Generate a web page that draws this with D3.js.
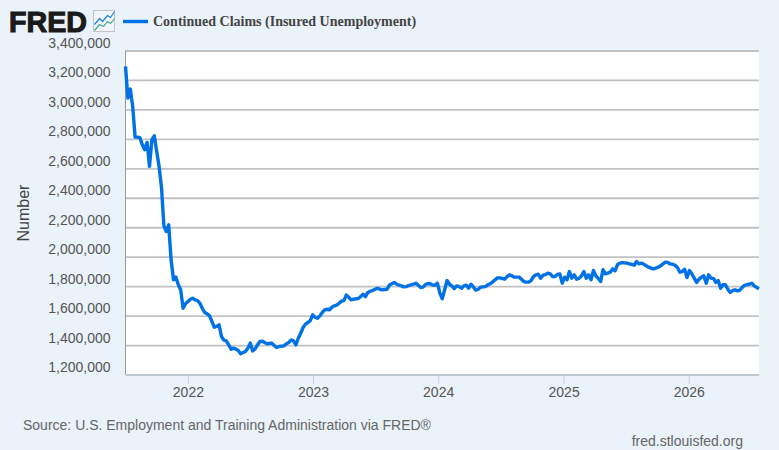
<!DOCTYPE html>
<html>
<head>
<meta charset="utf-8">
<script src="https://cdn.jsdelivr.net/npm/d3@7"></script>
<style>
  html, body { margin: 0; padding: 0; background: #eaf2fa; }
  svg { display: block; }
  text { font-family: "Liberation Sans", Arial, sans-serif; }
</style>
</head>
<body>
<div id="chart"></div>
<script>
/* Data */
const firstWeek = '2021-07-03';
const seriesName = 'Continued Claims (Insured Unemployment)';
const yTicks = [1200000, 1400000, 1600000, 1800000, 2000000, 2200000, 2400000, 2600000, 2800000, 3000000, 3200000, 3400000];
const yearTicks = ['2022-01-01', '2023-01-01', '2024-01-01', '2025-01-01', '2026-01-01'];

// weekly, in thousands
const claimsK = [
  3292, 3077, 3138, 3020, 2812, 2812, 2808, 2760, 2726, 2776, 2613, 2794, 2821, 2715, 2613,
  2470, 2210, 2171, 2216, 1979, 1843, 1861, 1809, 1775,
  1650, 1680, 1695, 1711, 1718, 1707, 1702, 1684, 1650, 1621, 1612, 1600, 1560, 1521, 1526, 1537,
  1458, 1433, 1428, 1401, 1372, 1379, 1372, 1363, 1340, 1349, 1356, 1379, 1413, 1360, 1374, 1401,
  1424, 1426, 1417, 1408, 1412, 1412, 1397, 1383, 1390, 1392, 1394, 1408, 1417, 1435, 1428, 1401,
  1446, 1480, 1519, 1542, 1553, 1566, 1605, 1589, 1582, 1598, 1621, 1639, 1643, 1639, 1657, 1666,
  1671, 1684, 1698, 1702, 1739, 1725, 1707, 1711, 1714, 1716, 1729, 1745, 1729, 1757,
  1766, 1770, 1779, 1786, 1779, 1775, 1777, 1779, 1807, 1816, 1825, 1813, 1807, 1802, 1795, 1797,
  1804, 1809, 1813, 1820, 1807, 1791, 1793, 1811, 1818, 1816, 1807, 1807, 1820, 1752, 1714, 1775,
  1838, 1813, 1802, 1784, 1802, 1797, 1786, 1802, 1807, 1786, 1813, 1793, 1773, 1779, 1793, 1795,
  1797, 1809, 1816, 1829, 1843, 1856, 1856, 1852, 1847, 1865, 1877, 1870, 1861, 1861, 1861, 1847,
  1831, 1827, 1827, 1838, 1865, 1877, 1881, 1854, 1874, 1879, 1888, 1883, 1865, 1865, 1879, 1883,
  1820, 1861, 1843, 1899, 1854, 1877, 1847, 1852, 1870, 1899, 1854, 1877, 1843, 1906, 1870, 1852,
  1831, 1911, 1884, 1888, 1895, 1917, 1904, 1945, 1956, 1960, 1958, 1956, 1951, 1947, 1942, 1967,
  1951, 1956, 1949, 1938, 1929, 1922, 1917, 1922, 1929, 1938, 1951, 1963, 1960, 1951, 1949, 1942,
  1926, 1895, 1899, 1915, 1859, 1906, 1884, 1854, 1825, 1847, 1861, 1870, 1820, 1877, 1854, 1852,
  1825, 1838, 1786, 1809, 1809, 1779, 1757, 1770, 1775, 1768, 1772, 1791, 1806, 1811, 1813, 1820,
  1802, 1791, 1782,
];

const width = 779;
const height = 450;
const margin = { top: 50.5, right: 20, bottom: 75.5, left: 125.5 };

const parseDate = d3.utcParse('%Y-%m-%d');
const claims = claimsK.map((v, i) => ({
  date: d3.utcDay.offset(parseDate(firstWeek), i * 7),
  value: v * 1000,
}));

const x = d3
  .scaleUtc()
  .domain(d3.extent(claims, (d) => d.date))
  .range([margin.left, width - margin.right]);

const y = d3
  .scaleLinear()
  .domain([1200000, 3400000])
  .range([height - margin.bottom, margin.top]);

const svg = d3
  .select('#chart')
  .append('svg')
  .attr('width', width)
  .attr('height', height)
  .attr('viewBox', '0 0 ' + width + ' ' + height);

// Plot background
svg
  .append('rect')
  .attr('x', margin.left)
  .attr('y', margin.top)
  .attr('width', width - margin.right - margin.left)
  .attr('height', height - margin.bottom - margin.top)
  .attr('fill', '#fff');

// Y axis with grid, labels sit above their grid line
const yAxis = svg
  .append('g')
  .attr('transform', `translate(${margin.left},0)`)
  .call(
    d3
      .axisLeft(y)
      .tickValues(yTicks)
      .tickFormat(d3.format(','))
      .tickSize(-(width - margin.right - margin.left))
      .tickPadding(15)
  );

yAxis.select('.domain').remove();
yAxis.selectAll('.tick line').attr('stroke', '#c2c2c2').attr('stroke-width', 1.8);
yAxis
  .selectAll('.tick text')
  .attr('y', -7.5)
  .attr('fill', '#555')
  .style('font-size', '14px');

// X axis
const xAxis = svg
  .append('g')
  .attr('transform', `translate(0,${height - margin.bottom})`)
  .call(
    d3
      .axisBottom(x)
      .tickValues(yearTicks.map(parseDate))
      .tickFormat(d3.utcFormat('%Y'))
      .tickSize(9)
      .tickSizeOuter(0)
      .tickPadding(4)
  );

xAxis.select('.domain').attr('stroke', '#c0d0e0').attr('stroke-width', 1);
xAxis.selectAll('.tick line').attr('stroke', '#c0d0e0');
xAxis.selectAll('.tick text').attr('fill', '#555').style('font-size', '14px');

// Left axis line
svg
  .append('line')
  .attr('x1', margin.left)
  .attr('x2', margin.left)
  .attr('y1', margin.top)
  .attr('y2', height - margin.bottom)
  .attr('stroke', '#9a9a9a')
  .attr('stroke-width', 1);

// Series
const line = d3
  .line()
  .x((d) => x(d.date))
  .y((d) => y(d.value));

svg
  .append('path')
  .datum(claims)
  .attr('fill', 'none')
  .attr('stroke', '#0072e6')
  .attr('stroke-width', 3.4)
  .attr('stroke-linejoin', 'round')
  .attr('d', line);

// Axis title
svg
  .append('text')
  .attr('transform', 'translate(29,213) rotate(-90)')
  .attr('text-anchor', 'middle')
  .attr('fill', '#444')
  .style('font-size', '16px')
  .text('Number');

// Logo
svg
  .append('text')
  .attr('x', 9)
  .attr('y', 31.5)
  .attr('fill', '#1b1a1a')
  .attr('stroke', '#1b1a1a')
  .attr('stroke-width', 1.1)
  .style('font-size', '30px')
  .style('font-weight', 'bold')
  .attr('textLength', 78)
  .attr('lengthAdjust', 'spacingAndGlyphs')
  .text('FRED');

const logoIcon = svg.append('g').attr('transform', 'translate(93.5,10.5)');
logoIcon
  .append('rect')
  .attr('width', 21)
  .attr('height', 21)
  .attr('fill', '#f2f6fa')
  .attr('stroke', '#c4c4c4');
logoIcon
  .append('path')
  .attr('d', 'M1,14L6,8L9,11L14,5L17,7L21,1')
  .attr('fill', 'none')
  .attr('stroke', '#1a7ee0')
  .attr('stroke-width', 1.2);
logoIcon
  .append('path')
  .attr('d', 'M1,20L6,14L10,16L14,11L17,13L21,8')
  .attr('fill', 'none')
  .attr('stroke', '#3aa98c')
  .attr('stroke-width', 1.2);

// Legend
svg
  .append('line')
  .attr('x1', 123)
  .attr('x2', 148)
  .attr('y1', 21.5)
  .attr('y2', 21.5)
  .attr('stroke', '#0072e6')
  .attr('stroke-width', 3.4);

svg
  .append('text')
  .attr('x', 153)
  .attr('y', 26)
  .attr('fill', '#444')
  .style('font-family', '"Liberation Serif", serif')
  .style('font-size', '14px')
  .style('font-weight', 'bold')
  .text(seriesName);

// Footer
svg
  .append('text')
  .attr('x', 23)
  .attr('y', 430)
  .attr('fill', '#666')
  .style('font-size', '14px')
  .text('Source: U.S. Employment and Training Administration via FRED®');

svg
  .append('text')
  .attr('x', 743)
  .attr('y', 446)
  .attr('text-anchor', 'end')
  .attr('fill', '#666')
  .style('font-size', '14px')
  .text('fred.stlouisfed.org');
</script>
</body>
</html>
